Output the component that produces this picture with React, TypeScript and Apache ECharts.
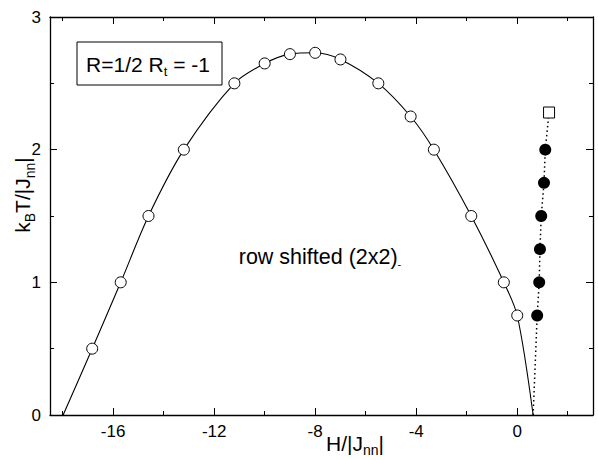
import React, { useEffect, useRef } from "react";
import * as echarts from "echarts";

// Open circles: row shifted (2x2) phase boundary
const openH = [-16.83, -15.7, -14.6, -13.2, -11.2, -10.0, -9.0, -8.0, -7.0, -5.5, -4.22, -3.3, -1.82, -0.53, 0.0];
const openT = [0.5, 1.0, 1.5, 2.0, 2.5, 2.65, 2.72, 2.73, 2.68, 2.5, 2.25, 2.0, 1.5, 1.0, 0.75];
// Curve end points on the T = 0 axis
const curveStart = [-17.98, 0];
const curveEnd = [0.63, 0];
// Filled circles
const filledH = [0.79, 0.87, 0.9, 0.95, 1.06, 1.11];
const filledT = [0.75, 1.0, 1.25, 1.5, 1.75, 2.0];
// Open square
const squareH = [1.26];
const squareT = [2.28];

const xMajorTicks = [-16, -12, -8, -4, 0];
const xMinorTicks = [-18, -14, -10, -6, -2, 2];
const yLabels = [0, 1, 2, 3];

const FONT = "Arial, 'Liberation Sans', Helvetica, sans-serif";

export default function App() {
  const ref = useRef<HTMLDivElement>(null);
  useEffect(() => {
    if (!ref.current) return;
    const chart = echarts.init(ref.current, null, { renderer: "svg" });
    const openPts = openH.map((h, i) => [h, openT[i]]);
    const curve = [curveStart, ...openPts, curveEnd];
    const filledPts = filledH.map((h, i) => [h, filledT[i]]);
    const squarePts = squareH.map((h, i) => [h, squareT[i]]);
    const dotted = [curveEnd, ...filledPts, ...squarePts];

    const axisLine = { show: true, onZero: false, lineStyle: { color: "#000", width: 1.3 } };
    const baseX = { type: "value", min: -18.5, max: 3, splitLine: { show: false } };

    chart.setOption({
      animation: false,
      backgroundColor: "#fff",
      grid: { left: 50, top: 17, right: 5, bottom: 45, containLabel: false },
      xAxis: [
        {
          ...baseX,
          position: "bottom",
          axisLine,
          axisTick: { show: true, inside: true, length: 7, customValues: xMajorTicks, lineStyle: { color: "#000", width: 1 } },
          axisLabel: { show: true, customValues: xMajorTicks, color: "#000", fontSize: 17, fontFamily: FONT, margin: 8 },
        },
        {
          ...baseX,
          position: "bottom",
          axisLine: { show: false, onZero: false },
          axisTick: { show: true, inside: true, length: 4, customValues: xMinorTicks, lineStyle: { color: "#000", width: 1 } },
          axisLabel: { show: false },
        },
        {
          ...baseX,
          position: "top",
          axisLine,
          axisTick: { show: true, inside: true, length: 7, customValues: xMajorTicks, lineStyle: { color: "#000", width: 1 } },
          axisLabel: { show: false },
        },
        {
          ...baseX,
          position: "top",
          axisLine: { show: false, onZero: false },
          axisTick: { show: true, inside: true, length: 4, customValues: xMinorTicks, lineStyle: { color: "#000", width: 1 } },
          axisLabel: { show: false },
        },
      ],
      yAxis: [
        {
          type: "value",
          min: 0,
          max: 3,
          interval: 1,
          position: "left",
          splitLine: { show: false },
          axisLine,
          axisTick: { show: true, inside: true, length: 7, lineStyle: { color: "#000", width: 1 } },
          minorTick: { show: true, splitNumber: 2, length: 4, lineStyle: { color: "#000", width: 1 } },
          axisLabel: { color: "#000", fontSize: 17, fontFamily: FONT, margin: 9, customValues: yLabels },
        },
        {
          type: "value",
          min: 0,
          max: 3,
          interval: 1,
          position: "right",
          splitLine: { show: false },
          axisLine,
          axisTick: { show: true, inside: true, length: 7, lineStyle: { color: "#000", width: 1 } },
          minorTick: { show: true, splitNumber: 2, length: 4, lineStyle: { color: "#000", width: 1 } },
          axisLabel: { show: false },
        },
      ],
      series: [
        {
          type: "line",
          data: curve,
          smooth: 0.3,
          showSymbol: false,
          symbol: "none",
          lineStyle: { color: "#000", width: 1.1 },
          z: 2,
        },
        {
          type: "scatter",
          data: openPts,
          symbol: "circle",
          symbolSize: 11,
          itemStyle: { color: "#fff", borderColor: "#000", borderWidth: 1, opacity: 1 },
          z: 5,
        },
        {
          type: "line",
          data: dotted,
          showSymbol: false,
          symbol: "none",
          lineStyle: { color: "#000", width: 1.5, type: [1.5, 3] },
          z: 2,
        },
        {
          type: "scatter",
          data: filledPts,
          symbol: "circle",
          symbolSize: 12,
          itemStyle: { color: "#000", opacity: 1 },
          z: 5,
        },
        {
          type: "scatter",
          data: squarePts,
          symbol: "rect",
          symbolSize: 11,
          itemStyle: { color: "#fff", borderColor: "#000", borderWidth: 1, opacity: 1 },
          z: 5,
        },
      ],
      graphic: [
        {
          type: "rect",
          shape: { x: 77, y: 42, width: 145, height: 43 },
          style: { fill: "#fff", stroke: "#000", lineWidth: 1 },
          z: 10,
        },
        {
          type: "text",
          x: 148,
          y: 64,
          z: 11,
          style: {
            text: "R=1/2 R{sub|t} = -1",
            font: `21px ${FONT}`,
            fill: "#000",
            align: "center",
            verticalAlign: "middle",
            rich: { sub: { fontSize: 13, fontFamily: FONT, fill: "#000", padding: [14, 0, 0, 0] } },
          },
        },
        {
          type: "text",
          x: 320,
          y: 257,
          z: 11,
          style: {
            text: "row shifted (2x2){sub|-}",
            font: `21.5px ${FONT}`,
            fill: "#000",
            align: "center",
            verticalAlign: "middle",
            rich: { sub: { fontSize: 11, fontFamily: FONT, fill: "#000", padding: [14, 0, 0, 0] } },
          },
        },
        {
          type: "text",
          x: 355,
          y: 443,
          z: 11,
          style: {
            text: "H/|J{sub|nn}|",
            font: `21px ${FONT}`,
            fill: "#000",
            align: "center",
            verticalAlign: "middle",
            rich: { sub: { fontSize: 14, fontFamily: FONT, fill: "#000", padding: [13, 0, 0, 0] } },
          },
        },
        {
          type: "text",
          x: 22,
          y: 195,
          rotation: Math.PI / 2,
          z: 11,
          style: {
            text: "k{sub|B}T/|J{sub|nn}|",
            font: `21px ${FONT}`,
            fill: "#000",
            align: "center",
            verticalAlign: "middle",
            rich: { sub: { fontSize: 14, fontFamily: FONT, fill: "#000", padding: [16, 0, 0, 0] } },
          },
        },
      ],
    });
    return () => chart.dispose();
  }, []);
  return <div ref={ref} style={{ width: 598, height: 460, position: "absolute", left: 0, top: 0 }} />;
}
